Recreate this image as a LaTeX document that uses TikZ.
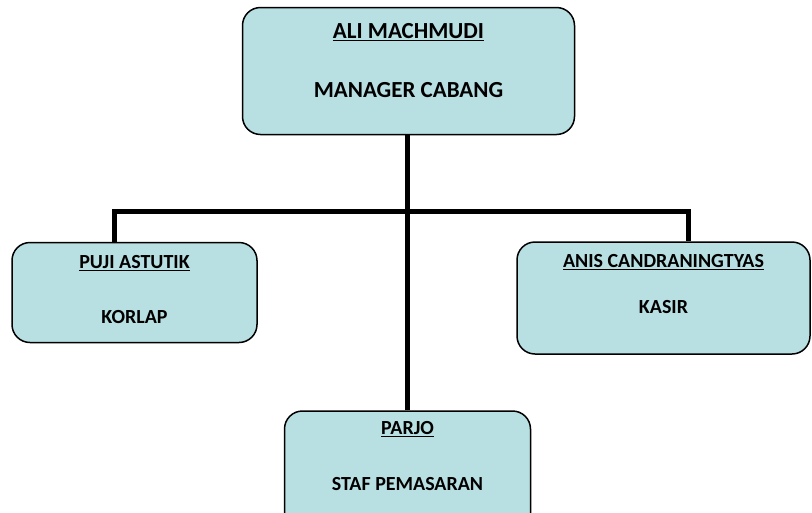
\documentclass[tikz,border=0pt]{standalone}
\usepackage{fontspec}
\setmainfont{Carlito}
\definecolor{boxfill}{RGB}{184,223,226}
\tikzset{
  orgbox/.style={draw=black,line width=1.5pt,fill=boxfill,rounded corners=18pt,
    inner sep=0pt},
  link/.style={line width=5pt},
  bigtext/.style={font=\bfseries\fontsize{23}{26}\selectfont,inner sep=0pt},
  smalltext/.style={font=\bfseries\fontsize{20}{23}\selectfont,inner sep=0pt}
}
\begin{document}
\begin{tikzpicture}[x=1pt,y=-1pt]
\useasboundingbox (0,0) rectangle (812,512);
\clip (0,0) rectangle (812,512);
% boxes
\node[orgbox,minimum width=332pt,minimum height=127pt] (mgr) at (408.5,71) {};
\node[orgbox,minimum width=245pt,minimum height=100pt] (korlap) at (134.5,292.5) {};
\node[orgbox,minimum width=293pt,minimum height=112pt] (kasir) at (663.5,298) {};
\node[orgbox,minimum width=246pt,minimum height=120pt] (staf) at (407.5,471) {};
% connectors
\coordinate (barL) at (114,211.5);
\coordinate (barR) at (688,211.5);
\draw[link] (mgr.south -| staf.north) -- (staf.north);
\draw[link] (korlap.north -| barL) -- (barL) -- (barR) -- (kasir.north -| barR);
% texts
\node[bigtext] (mgrname) at ([yshift=-25pt]mgr.north) {\underline{ALI MACHMUDI}};
\node[bigtext] (mgrrole) at ([yshift=-83pt]mgr.north) {MANAGER CABANG};
\node[smalltext] (korlapname) at ([yshift=-21pt]korlap.north) {\underline{PUJI ASTUTIK}};
\node[smalltext] (korlaprole) at ([yshift=-75pt]korlap.north) {KORLAP};
\node[smalltext] (kasirname) at ([yshift=-21pt]kasir.north) {\underline{ANIS CANDRANINGTYAS}};
\node[smalltext] (kasirrole) at ([yshift=-66pt]kasir.north) {KASIR};
\node[smalltext] (stafname) at ([yshift=-19pt]staf.north) {\underline{PARJO}};
\node[smalltext] (stafrole) at ([yshift=-74pt]staf.north) {STAF PEMASARAN};
\end{tikzpicture}
\end{document}
